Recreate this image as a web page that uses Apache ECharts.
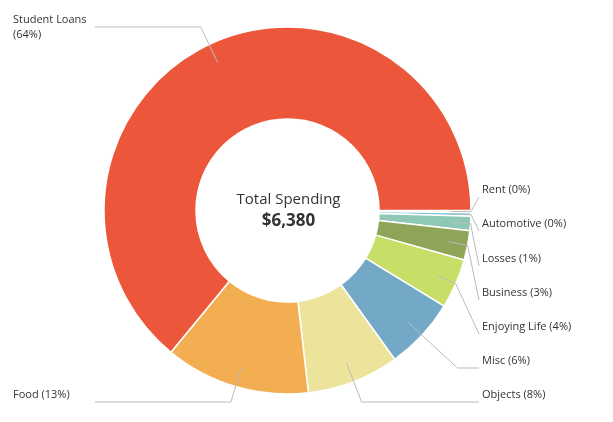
<!DOCTYPE html>
<html>
<head>
<meta charset="utf-8">
<script src="https://cdn.jsdelivr.net/npm/echarts@6/dist/echarts.min.js"></script>
<style>
html,body{margin:0;padding:0;background:#fff;}
#c{width:613px;height:422px;}
</style>
</head>
<body>
<div id="c"></div>
<script>
// ---- data ----
const categories = ['Rent', 'Automotive', 'Losses', 'Business', 'Enjoying Life', 'Misc', 'Objects', 'Food', 'Student Loans'];
const values = [12, 20, 80, 165, 280, 404, 518, 815, 4086];
const colors = ['#D3DE5E', '#7EC4DE', '#8FC8B5', '#8EA457', '#C8DF67', '#73A9C7', '#EBE49A', '#F2AE50', '#EC573B'];
const centerTitle = 'Total Spending';

// ---- layout ----
const CX = 287.5, CY = 210.5, R_IN = 91.5, R_OUT = 183.5, R_LINE = 164;
const labelCenterY = {
  'Rent': 190, 'Automotive': 224, 'Losses': 259, 'Business': 293,
  'Enjoying Life': 327, 'Misc': 361, 'Objects': 395,
  'Food': 395, 'Student Loans': 27
};
const RIGHT_LABEL_X = 482, RIGHT_LINE_X = 479, LEFT_LABEL_X = 13, LEFT_LINE_X = 95;
const FONT = 'Open Sans';

const total = values.reduce((a, b) => a + b, 0);
const totalText = '$' + total.toLocaleString('en-US');

const chart = echarts.init(document.getElementById('c'), null, {renderer: 'canvas'});

const ringData = categories.map((n, i) => ({
  name: n, value: values[i], itemStyle: {color: colors[i]}
}));
const labelData = categories.map((n, i) => ({name: n, value: values[i]}));

chart.setOption({
  animation: false,
  title: {
    text: centerTitle,
    subtext: totalText,
    left: CX + 1, top: 191, padding: 0, itemGap: 2,
    textAlign: 'center',
    textStyle: {fontFamily: FONT, fontSize: 15, fontWeight: 'normal', color: '#333', lineHeight: 18},
    subtextStyle: {fontFamily: FONT, fontSize: 17, fontWeight: 'bold', color: '#333', lineHeight: 20}
  },
  series: [{
    type: 'pie',
    z: 2,
    center: [CX, CY],
    radius: [R_IN, R_OUT],
    startAngle: 0,
    clockwise: true,
    silent: true,
    itemStyle: {borderColor: '#fff', borderWidth: 1.5},
    label: {show: false},
    labelLine: {show: false},
    data: ringData
  }, {
    type: 'pie',
    z: 5,
    center: [CX, CY],
    radius: [0, R_LINE],
    startAngle: 0,
    clockwise: true,
    silent: true,
    avoidLabelOverlap: false,
    itemStyle: {color: 'rgba(0,0,0,0)', borderWidth: 0},
    label: {
      show: true,
      position: 'outside',
      fontFamily: FONT, fontSize: 11, color: '#333', lineHeight: 15,
      formatter: function (p) {
        const pct = Math.round(p.value / total * 100);
        if (p.name === 'Student Loans') return p.name + '\n(' + pct + '%)';
        return p.name + ' (' + pct + '%)';
      }
    },
    labelLine: {show: true, length: 10, length2: 10, smooth: false,
      lineStyle: {color: '#BBBBBB', width: 1}},
    labelLayout: function (p) {
      const name = categories[p.dataIndex];
      const pts = p.labelLinePoints;
      let ux, uy;
      if (pts && pts[0]) {
        const dx = pts[0][0] - CX, dy = pts[0][1] - CY;
        const len = Math.hypot(dx, dy) || 1;
        ux = dx / len; uy = dy / len;
      } else {
        let cum = 0;
        for (let i = 0; i < p.dataIndex; i++) cum += values[i];
        const a = (cum + values[p.dataIndex] / 2) / total * Math.PI * 2;
        ux = Math.cos(a); uy = Math.sin(a);
      }
      const right = ux > 0;
      const ty = labelCenterY[name];
      const multi = (p.text || '').indexOf('\n') >= 0;
      const lineY = multi ? ty : ty + 7;
      const endX = right ? RIGHT_LINE_X : LEFT_LINE_X;
      const p0 = [CX + ux * R_LINE, CY + uy * R_LINE];
      let p1 = [CX + ux * R_OUT, CY + uy * R_OUT];
      if (Math.abs(uy) > 1e-6) {
        const r = (lineY - CY) / uy;
        const xr = CX + ux * r;
        if (r >= R_OUT && (right ? xr <= endX : xr >= endX)) p1 = [xr, lineY];
      }
      return {
        x: right ? RIGHT_LABEL_X : LEFT_LABEL_X,
        y: ty,
        align: 'left',
        verticalAlign: 'middle',
        labelLinePoints: [p0, p1, [endX, lineY]]
      };
    },
    data: labelData
  }]
});
</script>
</body>
</html>
